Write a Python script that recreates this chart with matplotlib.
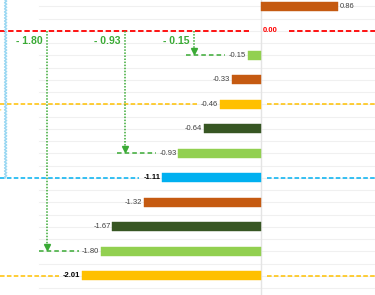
import numpy as np
import matplotlib
matplotlib.use("Agg")
import matplotlib.pyplot as plt

# rows top to bottom
values = [0.86, 0.00, -0.15, -0.33, -0.46, -0.64, -0.93, -1.11, -1.32, -1.67, -1.80, -2.01]
colors = ["#C55A11", "#FF0000", "#92D050", "#C55A11", "#FFC000", "#375623",
          "#92D050", "#00B0F0", "#C55A11", "#375623", "#92D050", "#FFC000"]
# rows marked with a long dashed reference line
ref_rows = [1, 4, 7, 11]
# rows with a drop arrow from the zero line
drop_rows = [2, 6, 10]

GREEN = "#3AAA35"
plt.rcParams['font.family'] = ['Liberation Sans', 'DejaVu Sans']

fig = plt.figure(figsize=(3.75, 2.95), dpi=100)
ax = fig.add_axes([0, 0, 1, 1])
ax.set_xlim(-2.933, 1.281)
ax.set_ylim(11.78, -0.265)
ax.axis("off")

n = len(values)
ypos = np.arange(n)

# faint gridlines every half row, plot area starts a bit in from the left
for g in np.arange(-0.5, n + 0.5, 0.5):
    ax.plot([-2.494, 1.281], [g, g], color="#F0F0F0", lw=0.8, zorder=0)
ax.axvline(0, color="#E4E4E4", lw=1, zorder=1)

# bars
for i, v in enumerate(values):
    if v == 0:
        continue
    ax.barh(i, v, height=0.37, color=colors[i], edgecolor=colors[i], lw=0.3, zorder=3)
    bold = i in (7, 11)
    if v > 0:
        ax.text(v + 0.02, i, f"{v:.2f}", ha="left", va="center", fontsize=5.5,
                color="#404040", zorder=4)
    else:
        ax.text(v - 0.02, i, f"{v:.2f}", ha="right", va="center", fontsize=5.5,
                color="#000000" if bold else "#404040",
                fontweight="bold" if bold else "normal", zorder=4)

# reference dashed lines
for i in ref_rows:
    v = values[i]
    c = colors[i]
    if v == 0:
        ax.plot([-2.933, -0.13], [i, i], color=c, lw=1.3, ls=(0, (3, 1.5)), zorder=2)
        ax.plot([0.32, 1.281], [i, i], color=c, lw=1.3, ls=(0, (3, 1.5)), zorder=2)
        ax.text(0.02, i, f"{v:.2f}", ha="left", va="center", fontsize=5.5,
                color=c, fontweight="bold")
    else:
        ax.plot([-2.933, v - 0.26], [i, i], color=c, lw=1.1, ls=(0, (3, 1.5)), zorder=2)
        ax.plot([0.07, 1.281], [i, i], color=c, lw=1.1, ls=(0, (3, 1.5)), zorder=2)

# drop arrows from the zero row
for i in drop_rows:
    v = values[i]
    xa = v - 0.6
    ax.plot([xa, xa], [1, i - 0.17], color=GREEN, lw=1.1, ls=(0, (1, 1)), zorder=2)
    ax.plot([xa], [i - 0.17], marker="v", color=GREEN, ms=5, zorder=3)
    ax.plot([v - 0.69, v - 0.25], [i, i], color=GREEN, lw=1.1, ls=(0, (3, 2)), zorder=2)
    ax.text(xa - 0.05, 1.42, f"- {abs(v):.2f}", ha="right", va="center",
            fontsize=7.5, fontweight="bold", color=GREEN)

# wavy bracket on the left down to the blue row
yw = np.linspace(-0.3, 7, 600)
xw = -2.87 + 0.012 * np.sin(yw * 2 * np.pi * 8)
ax.plot(xw, yw, color="#9CD8F2", lw=1.0, zorder=2)
ax.text(-2.935, 4.3, "'", color="#FFC000", fontsize=6, ha="left", va="center")

fig.savefig("out.png", dpi=100)
